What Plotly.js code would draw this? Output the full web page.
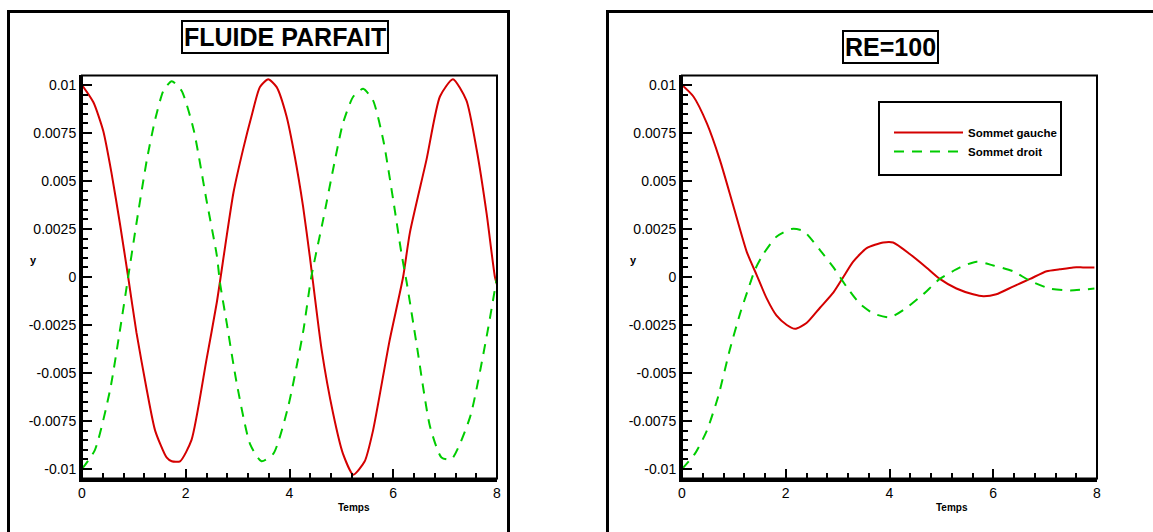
<!DOCTYPE html>
<html>
<head>
<meta charset="utf-8">
<script src="https://cdn.plot.ly/plotly-3.0.1.min.js"></script>
<style>
  html, body { margin: 0; padding: 0; background: #fff; }
  #chart { width: 1153px; height: 532px; }
</style>
</head>
<body>
<div id="chart"></div>
<script>
// ---------- data ----------
const panelTitles = ["FLUIDE PARFAIT", "RE=100"];
const seriesNames = ["Sommet gauche", "Sommet droit"];
const xTitle = "Temps";
const yTitle = "y";

const xTickVals = [0, 2, 4, 6, 8];
const xTickText = ["0", "2", "4", "6", "8"];
const yTickVals = [0.01, 0.0075, 0.005, 0.0025, 0, -0.0025, -0.005, -0.0075, -0.01];
const yTickText = ["0.01", "0.0075", "0.005", "0.0025", "0", "-0.0025", "-0.005", "-0.0075", "-0.01"];

// Left panel: FLUIDE PARFAIT
const tLeftGauche = [0, 0.22, 0.41, 0.57, 0.73, 0.89, 1.05, 1.25, 1.41, 1.63, 1.73, 1.89, 2.11, 2.40, 2.60, 2.76, 2.92, 3.11, 3.27, 3.43, 3.59, 3.75, 3.94, 4.10, 4.26, 4.39, 4.62, 4.84, 5.03, 5.23, 5.45, 5.61, 5.93, 6.19, 6.32, 6.64, 6.90, 7.15, 7.41, 7.61, 7.80, 7.96, 8.00];
const yLeftGauche = [0.0100, 0.0091, 0.0076, 0.0054, 0.0028, 0.0000, -0.0029, -0.0059, -0.0080, -0.0094, -0.0096, -0.0096, -0.0085, -0.0043, -0.0013, 0.0016, 0.0044, 0.0067, 0.0084, 0.0099, 0.0103, 0.0099, 0.0084, 0.0063, 0.0037, 0.0011, -0.0038, -0.0071, -0.0092, -0.0103, -0.0096, -0.0080, -0.0033, 0.0000, 0.0023, 0.0061, 0.0094, 0.0103, 0.0092, 0.0066, 0.0033, 0.0000, -0.0004];

const tLeftDroit = [0, 0.25, 0.54, 0.73, 0.89, 1.05, 1.25, 1.41, 1.57, 1.73, 1.92, 2.15, 2.40, 2.60, 2.66, 2.79, 2.98, 3.24, 3.46, 3.69, 3.97, 4.26, 4.42, 4.65, 4.84, 5.03, 5.23, 5.42, 5.61, 5.81, 6.00, 6.16, 6.26, 6.45, 6.71, 6.93, 7.12, 7.48, 7.80, 8.00];
const yLeftDroit = [-0.0100, -0.0090, -0.0059, -0.0028, 0.0000, 0.0028, 0.0061, 0.0082, 0.0097, 0.0102, 0.0097, 0.0077, 0.0040, 0.0011, -0.0003, -0.0024, -0.0055, -0.0087, -0.0096, -0.0092, -0.0068, -0.0029, 0.0000, 0.0030, 0.0056, 0.0080, 0.0094, 0.0098, 0.0092, 0.0071, 0.0040, 0.0012, -0.0003, -0.0035, -0.0078, -0.0094, -0.0095, -0.0073, -0.0031, 0.0000];

// Right panel: RE=100
const tRightGauche = [0, 0.22, 0.48, 0.73, 0.99, 1.25, 1.44, 1.63, 1.82, 2.02, 2.18, 2.40, 2.66, 2.92, 3.11, 3.30, 3.56, 3.88, 4.07, 4.39, 4.71, 4.97, 5.29, 5.61, 5.81, 6.06, 6.38, 6.71, 7.03, 7.28, 7.54, 7.73, 7.95];
const yRightGauche = [0.0100, 0.0094, 0.0080, 0.0061, 0.0037, 0.0013, 0.0001, -0.0011, -0.0020, -0.0025, -0.0027, -0.0024, -0.0016, -0.0008, 0.0000, 0.0008, 0.0015, 0.0018, 0.0018, 0.0012, 0.0005, -0.0001, -0.0006, -0.0009, -0.0010, -0.0009, -0.0005, -0.0001, 0.0003, 0.0004, 0.0005, 0.0005, 0.0005];

const tRightDroit = [0, 0.25, 0.48, 0.70, 0.92, 1.12, 1.28, 1.41, 1.57, 1.82, 2.11, 2.34, 2.66, 2.92, 3.17, 3.43, 3.69, 4.01, 4.33, 4.65, 4.97, 5.36, 5.68, 6.00, 6.38, 6.71, 7.09, 7.48, 7.95];
const yRightDroit = [-0.0100, -0.0092, -0.0080, -0.0062, -0.0038, -0.0019, -0.0006, 0.0004, 0.0012, 0.0021, 0.0025, 0.0024, 0.0014, 0.0005, -0.0005, -0.0014, -0.0019, -0.0021, -0.0016, -0.0009, -0.0001, 0.0005, 0.0008, 0.0006, 0.0003, -0.0002, -0.0006, -0.0007, -0.0006];

// ---------- styling ----------
const W = 1153, H = 532;
const px = x => x / W;
const py = y => 1 - y / H;
const RED = "#d40000";
const GREEN = "#00cc00";
const FONT = "Liberation Sans, Arial, sans-serif";

const redLine = { color: RED, width: 2, shape: "spline", smoothing: 0.6 };
const greenLine = { color: GREEN, width: 2, dash: "10px,8px", shape: "spline", smoothing: 0.6 };

const traces = [
  { x: tLeftGauche, y: yLeftGauche, xaxis: "x", yaxis: "y", mode: "lines", line: redLine, name: seriesNames[0], showlegend: false },
  { x: tLeftDroit, y: yLeftDroit, xaxis: "x", yaxis: "y", mode: "lines", line: greenLine, name: seriesNames[1], showlegend: false },
  { x: tRightGauche, y: yRightGauche, xaxis: "x2", yaxis: "y2", mode: "lines", line: redLine, name: seriesNames[0], showlegend: true },
  { x: tRightDroit, y: yRightDroit, xaxis: "x2", yaxis: "y2", mode: "lines", line: greenLine, name: seriesNames[1], showlegend: true }
];

function xAxis(domain, anchor) {
  return {
    domain: domain, anchor: anchor, range: [0, 8], fixedrange: true,
    tickmode: "array", tickvals: xTickVals, ticktext: xTickText,
    ticks: "inside", ticklen: 10, tickwidth: 2, tickcolor: "#000",
    minor: { tick0: 0, dtick: 0.4, ticks: "inside", ticklen: 6, tickwidth: 2, tickcolor: "#000" },
    showline: true, linewidth: 3, linecolor: "#000", mirror: false,
    showgrid: false, zeroline: false,
    tickfont: { family: FONT, size: 14, color: "#000" }
  };
}
function yAxis(anchor) {
  return {
    domain: [py(478.6), py(75.4)], anchor: anchor, range: [-0.0105, 0.0105], fixedrange: true,
    tickmode: "array", tickvals: yTickVals, ticktext: yTickText,
    ticks: "inside", ticklen: 10, tickwidth: 2, tickcolor: "#000",
    minor: { tick0: 0, dtick: 0.0005, ticks: "inside", ticklen: 6, tickwidth: 2, tickcolor: "#000" },
    showline: true, linewidth: 3, linecolor: "#000", mirror: false,
    showgrid: false, zeroline: false,
    tickfont: { family: FONT, size: 14, color: "#000" }
  };
}

const layout = {
  width: W, height: H,
  margin: { l: 0, r: 0, t: 0, b: 0, pad: 0, autoexpand: false },
  paper_bgcolor: "#fff", plot_bgcolor: "#fff",
  font: { family: FONT, color: "#000" },
  xaxis: xAxis([px(82), px(497)], "y"),
  yaxis: yAxis("x"),
  xaxis2: xAxis([px(682), px(1097)], "y2"),
  yaxis2: yAxis("x2"),
  showlegend: true,
  legend: {
    x: px(889), y: py(118), xanchor: "left", yanchor: "top",
    bgcolor: "rgba(0,0,0,0)", borderwidth: 0,
    itemwidth: 69, tracegroupgap: 0,
    font: { family: FONT, size: 11.5, color: "#000", weight: "bold" }
  },
  shapes: [
    // outer panel frames
    { type: "rect", xref: "paper", yref: "paper", x0: px(8.5), x1: px(508.5), y0: -0.1, y1: py(11.5), line: { color: "#000", width: 3 } },
    { type: "rect", xref: "paper", yref: "paper", x0: px(607.5), x1: 1.1, y0: -0.1, y1: py(11.5), line: { color: "#000", width: 3 } },
    // plot boxes
    { type: "rect", xref: "x domain", yref: "y domain", x0: 0, x1: 1, y0: 0, y1: 1, line: { color: "#000", width: 2 } },
    { type: "rect", xref: "x2 domain", yref: "y2 domain", x0: 0, x1: 1, y0: 0, y1: 1, line: { color: "#000", width: 2 } },
    // legend box
    { type: "rect", xref: "paper", yref: "paper", x0: px(879), x1: px(1061), y0: py(175), y1: py(102), line: { color: "#000", width: 2 } }
  ],
  annotations: [
    { text: panelTitles[0], xref: "paper", yref: "paper", x: px(284.5), y: py(36.5), xanchor: "center", yanchor: "middle", showarrow: false,
      font: { family: FONT, size: 25, color: "#000", weight: "bold" }, bordercolor: "#000", borderwidth: 2, borderpad: 1 },
    { text: panelTitles[1], xref: "paper", yref: "paper", x: px(890.5), y: py(47), xanchor: "center", yanchor: "middle", showarrow: false,
      font: { family: FONT, size: 25, color: "#000", weight: "bold" }, bordercolor: "#000", borderwidth: 2, borderpad: 1 },
    { text: yTitle, xref: "paper", yref: "paper", x: px(33.5), y: py(260), showarrow: false, xanchor: "center", yanchor: "middle",
      font: { family: FONT, size: 11, color: "#000", weight: "bold" } },
    { text: yTitle, xref: "paper", yref: "paper", x: px(633), y: py(260), showarrow: false, xanchor: "center", yanchor: "middle",
      font: { family: FONT, size: 11, color: "#000", weight: "bold" } },
    { text: xTitle, xref: "paper", yref: "paper", x: px(354), y: py(507), showarrow: false, xanchor: "center", yanchor: "middle",
      font: { family: FONT, size: 10, color: "#000", weight: "bold" } },
    { text: xTitle, xref: "paper", yref: "paper", x: px(952), y: py(507), showarrow: false, xanchor: "center", yanchor: "middle",
      font: { family: FONT, size: 10, color: "#000", weight: "bold" } }
  ]
};

Plotly.newPlot("chart", traces, layout, { displayModeBar: false, staticPlot: true });
</script>
</body>
</html>
